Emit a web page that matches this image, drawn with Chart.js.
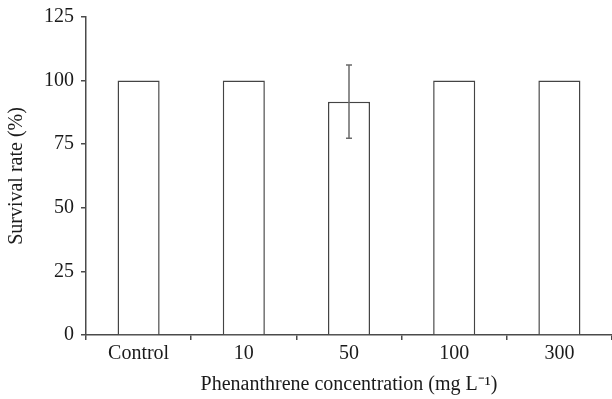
<!DOCTYPE html>
<html>
<head>
<meta charset="utf-8">
<script src="https://cdn.jsdelivr.net/npm/chart.js@4"></script>
<style>
  html, body { margin: 0; padding: 0; background: #fff; }
  #wrap { width: 612px; height: 399px; position: relative; }
</style>
</head>
<body>
<div id="wrap"><canvas id="chart"></canvas></div>
<script>
// survival rate per phenanthrene concentration
const categories = ['Control', '10', '50', '100', '300'];
const survival = [100, 100, 91.7, 100, 100];
const survivalErr = [0, 0, 14.4, 0, 0];
const yTicks = [0, 25, 50, 75, 100, 125];

const axisColor = '#4a4a4a';
const textColor = '#1a1a1a';
const serif = "'Liberation Serif', 'Times New Roman', serif";

// draws the error bars from the dataset values
const errorBars = {
    id: 'errorBars',
    afterDatasetsDraw(chart) {
        let ctx = chart.ctx;
        let meta = chart.getDatasetMeta(0);
        let y = chart.scales.y;
        ctx.save();
        ctx.strokeStyle = '#6a6a6a';
        ctx.lineWidth = 1.5;
        meta.data.forEach((bar, i) => {
            let err = survivalErr[i];
            if (!err) return;
            let top = y.getPixelForValue(survival[i] + err);
            let bottom = y.getPixelForValue(survival[i] - err);
            ctx.beginPath();
            ctx.moveTo(bar.x, top);
            ctx.lineTo(bar.x, bottom);
            ctx.moveTo(bar.x - 3, top);
            ctx.lineTo(bar.x + 3, top);
            ctx.moveTo(bar.x - 3, bottom);
            ctx.lineTo(bar.x + 3, bottom);
            ctx.stroke();
        });
        ctx.restore();
    }
};

new Chart(document.getElementById('chart'), {
    type: 'bar',
    data: {
        labels: categories,
        datasets: [
            {
                label: 'Survival rate',
                data: survival,
                backgroundColor: '#ffffff',
                borderColor: '#444444',
                borderWidth: 1.5,
                barPercentage: 0.4,
                categoryPercentage: 1,
            },
        ],
    },
    plugins: [errorBars],
    options: {
        responsive: true,
        maintainAspectRatio: false,
        animation: false,
        layout: {
            padding: { top: 17, right: 0, left: 0, bottom: 0 },
        },
        plugins: {
            legend: { display: false },
            tooltip: { enabled: false },
        },
        scales: {
            x: {
                grid: {
                    display: true,
                    drawOnChartArea: false,
                    offset: true,
                    tickLength: 5,
                    color: axisColor,
                    lineWidth: 1.5,
                },
                border: { display: true, color: axisColor, width: 1.5 },
                ticks: {
                    color: textColor,
                    font: { family: serif, size: 20 },
                    padding: 2,
                },
                title: {
                    display: true,
                    text: 'Phenanthrene concentration (mg L\u207B\u00B9)',
                    color: textColor,
                    font: { family: serif, size: 20 },
                    padding: { top: 4, bottom: 2 },
                },
                afterFit(scale) { scale.height = 64; },
            },
            y: {
                min: 0,
                max: 125,
                afterBuildTicks(scale) {
                    scale.ticks = yTicks.map(v => ({ value: v }));
                },
                grid: {
                    display: true,
                    drawOnChartArea: false,
                    tickLength: 5,
                    color: axisColor,
                    lineWidth: 1.5,
                },
                border: { display: true, color: axisColor, width: 1.5 },
                ticks: {
                    color: textColor,
                    font: { family: serif, size: 20, lineHeight: 1 },
                    padding: 7,
                },
                title: {
                    display: true,
                    text: 'Survival rate (%)',
                    color: textColor,
                    font: { family: serif, size: 20 },
                    padding: { top: 5, bottom: 4 },
                },
                afterFit(scale) { scale.width = 86; },
            },
        },
    },
});
</script>
</body>
</html>
